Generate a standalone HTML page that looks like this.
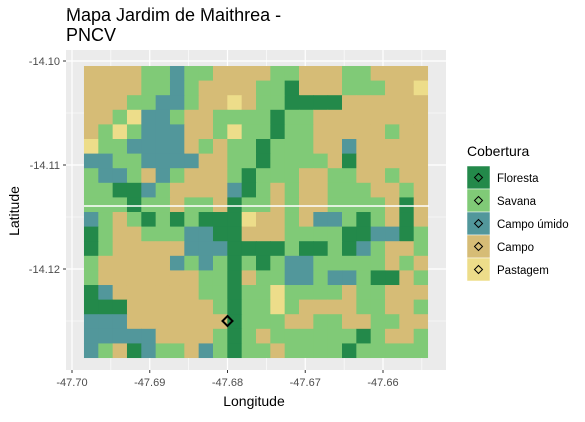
<!DOCTYPE html>
<html><head><meta charset="utf-8"><style>
body{margin:0;background:#fff;font-family:"Liberation Sans",sans-serif}
</style></head><body>
<svg id="chart" width="585" height="417" xmlns="http://www.w3.org/2000/svg" font-family="Liberation Sans, sans-serif">
<text x="66" y="21" font-size="18" fill="#000">Mapa Jardim de Maithrea -</text>
<text x="66" y="41" font-size="18" fill="#000">PNCV</text>
<rect x="66" y="50" width="380" height="320" fill="#EBEBEB"/>
<g id="grid"></g>
<g id="cells"></g>
<line x1="84" x2="429" y1="206" y2="206" stroke="#fff" stroke-width="1.5"/>
<g id="axes"></g>
<text x="254" y="406" font-size="14" text-anchor="middle">Longitude</text>
<text transform="translate(19,211) rotate(-90)" font-size="14" text-anchor="middle">Latitude</text>
<g id="legend">
<text x="467" y="156" font-size="14">Cobertura</text>
</g>
</svg>
<script>
const xTicks=[-47.70,-47.69,-47.68,-47.67,-47.66];
const yTicks=[-14.10,-14.11,-14.12];
const categories=["Floresta","Savana","Campo úmido","Campo","Pastagem"];
const colors={F:"#23894A",S:"#80CA77",W:"#52979B",C:"#D6BC76",P:"#EDDD8A"};
const codes=["F","S","W","C","P"];
const rows=[
"CCCCSSWSSCCCCSSCCCSSCCCC",
"CCCCSSWSCCCCSSFCCCSSSCCP",
"CCCSSWWSCCPCSSFFFFCCCCCC",
"CCSPWWSCCSSSSFSSCCCCCCCC",
"CSPSWWWCCSPSSFSSCCCCCSCC",
"PSSWWWWCSCSSFSSSCCWCCCCC",
"WWSSWWWWCCSSFSSSSCFCCCCC",
"SWWSCWSCCCSFSSSCCSSCCSCC",
"SSFFWSCCCCWFSCSCCSSSCCSC",
"SSSFSSCSSCFSSCSCCSSSSCFC",
"WSCSFSFSFFFPCCSCWWSFSCFC",
"FSCCSSSWWFFCCCSSSSFFWWFS",
"FSCCCCCWWWFFFFSFFSFWSCCS",
"SCCCCCWSWSFSFSWWSSSSSCSC",
"SCCCCCCCSSFCSSWWSWWSFFCS",
"FWCCCCCCSSFSSPSSSSCSSCCC",
"FFFCCCCCCSFSSPSCCCCSSCCS",
"WWWCCCCCCCFSSSCCSSCCSSCC",
"WWWWWCCCCSFSCSSSSSSFSCCS",
"WSCFWSSCWSFSSCSSSSFSSSSS"];
const lonMin=-47.69846,lonMax=-47.65421,latMax=-14.10048,latMin=-14.12856;
const marker=[-47.6800,-14.1250];
const ns="http://www.w3.org/2000/svg";
function sx(v){return 72+(v+47.70)/0.01*77.75;}
function sy(v){return 61+(-14.10-v)/0.01*104;}
function mk(t,a,p){const e=document.createElementNS(ns,t);for(const k in a)e.setAttribute(k,a[k]);p.appendChild(e);return e;}
const grid=document.getElementById('grid'),axes=document.getElementById('axes');
for(let i=0;i<xTicks.length;i++){const m=xTicks[i]+0.005;const l=mk('line',{x1:sx(m),x2:sx(m),y1:50,y2:370,stroke:'#fff','stroke-width':0.6},grid);}
for(let i=0;i<=yTicks.length;i++){const m=yTicks[0]+0.005-0.01*i;const l=mk('line',{x1:66,x2:446,y1:sy(m),y2:sy(m),stroke:'#fff','stroke-width':0.6},grid);}
xTicks.forEach(v=>{const l=mk('line',{x1:sx(v),x2:sx(v),y1:50,y2:370,stroke:'#fff','stroke-width':1.2},grid);
const t=mk('line',{x1:sx(v),x2:sx(v),y1:370,y2:373,stroke:'#333'},axes);
const tx=mk('text',{x:sx(v),y:386,'font-size':11,'text-anchor':'middle',fill:'#4D4D4D'},axes);tx.textContent=v.toFixed(2);});
yTicks.forEach(v=>{const l=mk('line',{x1:66,x2:446,y1:sy(v),y2:sy(v),stroke:'#fff','stroke-width':1.2},grid);
const t=mk('line',{x1:63,x2:66,y1:sy(v),y2:sy(v),stroke:'#333'},axes);
const tx=mk('text',{x:60,y:sy(v)+4,'font-size':11,'text-anchor':'end',fill:'#4D4D4D'},axes);tx.textContent=v.toFixed(2);});
const cells=document.getElementById('cells');
const nr=rows.length,nc=rows[0].length;
const x0=sx(lonMin),x1=sx(lonMax),y0=sy(latMax),y1=sy(latMin);
const cw=(x1-x0)/nc,ch=(y1-y0)/nr;
for(let r=0;r<nr;r++)for(let c=0;c<nc;c++){const e=mk('rect',{x:x0+c*cw,y:y0+r*ch,width:cw+(c<nc-1?0.5:0),height:ch+(r<nr-1?0.5:0),fill:colors[rows[r][c]]},cells);

}
const mx=sx(marker[0]),my=sy(marker[1]);
const d=mk('path',{d:`M${mx} ${my-5}L${mx+5} ${my}L${mx} ${my+5}L${mx-5} ${my}Z`,fill:'none',stroke:'#000','stroke-width':2},cells);


const lg=document.getElementById('legend');
categories.forEach((n,i)=>{const y=166+i*23;
const b=mk('rect',{x:467,y:y,width:23,height:23,fill:colors[codes[i]],stroke:'#fff','stroke-width':0.5},lg);


const cx=478.5,cy=y+11.5;
const dm=mk('path',{d:`M${cx} ${cy-4}L${cx+4} ${cy}L${cx} ${cy+4}L${cx-4} ${cy}Z`,fill:'none',stroke:'#000','stroke-width':1},lg);


const t=mk('text',{x:497,y:y+16,'font-size':11.5,fill:'#000'},lg);t.textContent=n;

});
</script>
</body></html>
